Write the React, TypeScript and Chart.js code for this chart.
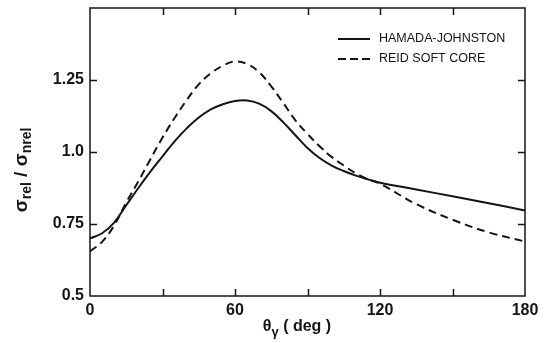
import React, { useEffect, useRef } from "react";
import { Chart, registerables } from "chart.js";

Chart.register(...registerables);

// Photon angle (deg)
const angles = [0, 5, 10, 15, 20, 25, 30, 35, 40, 45, 50, 55, 60, 65, 70, 75, 80, 85, 90, 95, 100, 105, 110, 115, 120, 135, 150, 165, 180];
// sigma_rel / sigma_nrel
const hamadaJohnston = [0.700, 0.718, 0.755, 0.815, 0.875, 0.932, 0.985, 1.037, 1.082, 1.120, 1.148, 1.166, 1.177, 1.179, 1.168, 1.142, 1.103, 1.058, 1.014, 0.979, 0.953, 0.934, 0.918, 0.905, 0.893, 0.870, 0.846, 0.822, 0.797];
const reidSoftCore = [0.655, 0.688, 0.745, 0.825, 0.898, 0.975, 1.050, 1.118, 1.180, 1.235, 1.273, 1.300, 1.314, 1.305, 1.277, 1.228, 1.170, 1.110, 1.063, 1.020, 0.983, 0.953, 0.926, 0.906, 0.890, 0.819, 0.765, 0.721, 0.689];

const seriesNames = ["HAMADA-JOHNSTON", "REID SOFT CORE"];
const xTickValues = [0, 60, 120, 180];
const xTickLabels = ["0", "60", "120", "180"];
const xMinorTicks = [30, 60, 90, 120, 150];
const yTickValues = [0.5, 0.75, 1.0, 1.25];
const yTickLabels = ["0.5", "0.75", "1.0", "1.25"];
const yInnerTicks = [0.75, 1.0, 1.25];

const INK = "#141414";
const FONT = "'Liberation Sans', Arial, sans-serif";

const framePlugin = {
  id: "frame",
  afterDraw(chart: any) {
    const ctx = chart.ctx as CanvasRenderingContext2D;
    const { left, right, top, bottom } = chart.chartArea;
    const xs = chart.scales.x;
    const ys = chart.scales.y;
    ctx.save();
    ctx.strokeStyle = INK;
    ctx.lineWidth = 1.5;
    ctx.setLineDash([]);
    ctx.strokeRect(left, top, right - left, bottom - top);
    const tl = 7;
    ctx.beginPath();
    xMinorTicks.forEach((v) => {
      const px = Math.round(xs.getPixelForValue(v)) + 0.5;
      ctx.moveTo(px, bottom);
      ctx.lineTo(px, bottom - tl);
      ctx.moveTo(px, top);
      ctx.lineTo(px, top + tl);
    });
    yInnerTicks.forEach((v) => {
      const py = Math.round(ys.getPixelForValue(v)) + 0.5;
      ctx.moveTo(left, py);
      ctx.lineTo(left + tl, py);
      ctx.moveTo(right, py);
      ctx.lineTo(right - tl, py);
    });
    ctx.stroke();

    // legend
    const lx0 = 338, lx1 = 370, tx = 379;
    const rows = [39, 59];
    ctx.lineWidth = 2;
    ctx.beginPath();
    ctx.moveTo(lx0, rows[0]);
    ctx.lineTo(lx1, rows[0]);
    ctx.stroke();
    ctx.setLineDash([8, 4]);
    ctx.beginPath();
    ctx.moveTo(lx0, rows[1]);
    ctx.lineTo(lx1 + 2, rows[1]);
    ctx.stroke();
    ctx.setLineDash([]);
    ctx.fillStyle = INK;
    ctx.font = `12.5px ${FONT}`;
    ctx.textBaseline = "middle";
    ctx.textAlign = "left";
    ctx.fillText(seriesNames[0], tx, rows[0]);
    ctx.fillText(seriesNames[1], tx, rows[1]);

    // x-axis title: θ_γ ( deg )
    const mainX = `bold 16px ${FONT}`;
    const subX = `bold 13px ${FONT}`;
    const parts: [string, string, number][] = [
      ["θ", mainX, 0],
      ["γ", subX, 5],
      [" ( deg )", mainX, 0],
    ];
    let w = 0;
    parts.forEach(([t, f]) => {
      ctx.font = f;
      w += ctx.measureText(t).width;
    });
    let cx = 297 - w / 2;
    const by = 327;
    parts.forEach(([t, f, dy]) => {
      ctx.font = f;
      ctx.fillText(t, cx, by + dy);
      cx += ctx.measureText(t).width;
    });

    // y-axis title: σ_rel / σ_nrel
    const mainY = `bold 19px ${FONT}`;
    const subY = `bold 14px ${FONT}`;
    const yparts: [string, string, number][] = [
      ["σ", mainY, 0],
      ["rel", subY, 5],
      [" / ", mainY, 0],
      ["σ", mainY, 0],
      ["nrel", subY, 5],
    ];
    let wy = 0;
    yparts.forEach(([t, f]) => {
      ctx.font = f;
      wy += ctx.measureText(t).width;
    });
    ctx.translate(22, 170);
    ctx.rotate(-Math.PI / 2);
    let cy = -wy / 2;
    yparts.forEach(([t, f, dy]) => {
      ctx.font = f;
      ctx.fillText(t, cy, dy);
      cy += ctx.measureText(t).width;
    });
    ctx.restore();
  },
};

export default function App() {
  const ref = useRef<HTMLCanvasElement | null>(null);
  useEffect(() => {
    if (!ref.current) return;
    const chart = new Chart(ref.current, {
      type: "line",
      data: {
        datasets: [
          {
            label: seriesNames[0],
            data: angles.map((a, i) => ({ x: a, y: hamadaJohnston[i] })),
            borderColor: INK,
            borderWidth: 2,
            pointRadius: 0,
            fill: false,
            tension: 0.4,
          },
          {
            label: seriesNames[1],
            data: angles.map((a, i) => ({ x: a, y: reidSoftCore[i] })),
            borderColor: INK,
            borderWidth: 2,
            borderDash: [8, 5],
            pointRadius: 0,
            fill: false,
            tension: 0.4,
          },
        ],
      },
      options: {
        responsive: false,
        animation: false,
        layout: { autoPadding: false, padding: { left: 0, right: 20, top: 8, bottom: 0 } },
        plugins: { legend: { display: false }, tooltip: { enabled: false } },
        scales: {
          x: {
            type: "linear",
            min: 0,
            max: 180,
            grid: { display: false, drawTicks: false },
            border: { display: false },
            afterBuildTicks: (s: any) => {
              s.ticks = xTickValues.map((v) => ({ value: v }));
            },
            ticks: {
              autoSkip: false,
              maxRotation: 0,
              padding: 5,
              color: INK,
              font: { family: FONT, size: 16, weight: "bold" },
              callback: (v: any) => {
                const i = xTickValues.indexOf(Number(v));
                return i >= 0 ? xTickLabels[i] : "";
              },
            },
            afterFit: (s: any) => {
              s.height = 47;
              s.paddingLeft = 0;
              s.paddingRight = 0;
            },
          },
          y: {
            type: "linear",
            min: 0.5,
            max: 1.5,
            grid: { display: false, drawTicks: false },
            border: { display: false },
            afterBuildTicks: (s: any) => {
              s.ticks = yTickValues.map((v) => ({ value: v }));
            },
            ticks: {
              autoSkip: false,
              padding: 6,
              color: INK,
              font: { family: FONT, size: 16, weight: "bold" },
              callback: (v: any) => {
                const i = yTickValues.findIndex((t) => Math.abs(t - Number(v)) < 1e-6);
                return i >= 0 ? yTickLabels[i] : "";
              },
            },
            afterFit: (s: any) => {
              s.width = 90;
              s.paddingTop = 0;
              s.paddingBottom = 0;
            },
          },
        },
      },
      plugins: [framePlugin],
    });
    return () => chart.destroy();
  }, []);
  return (
    <div style={{ position: "fixed", left: 0, top: 0, width: 545, height: 343, background: "#fff" }}>
      <canvas ref={ref} width={545} height={343} style={{ width: 545, height: 343, display: "block" }} />
    </div>
  );
}
